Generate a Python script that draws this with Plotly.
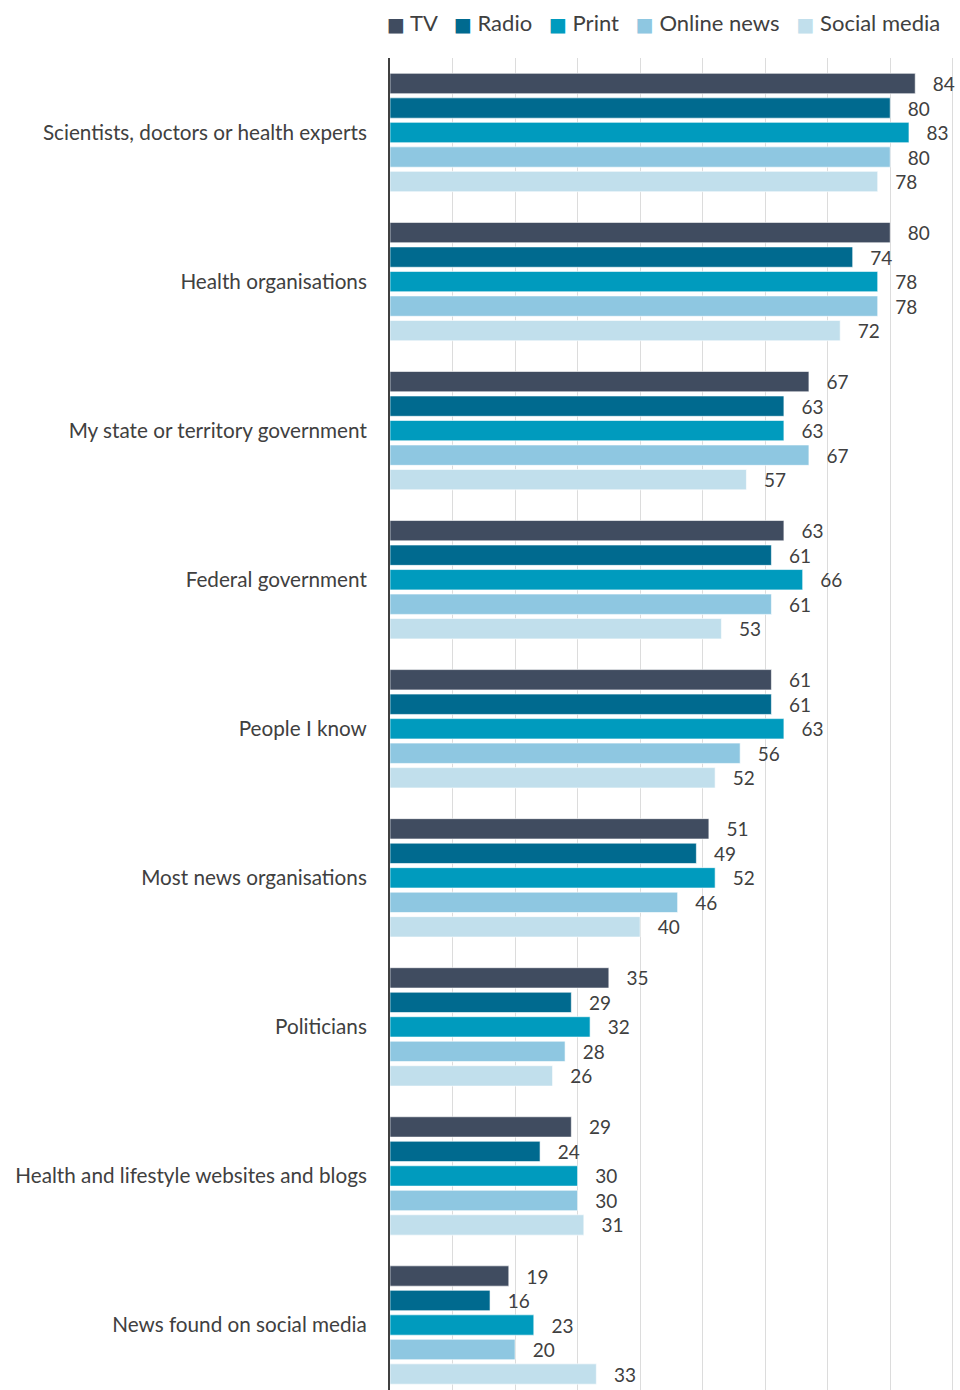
import plotly.graph_objects as go

categories = [
    "Scientists, doctors or health experts",
    "Health organisations",
    "My state or territory government",
    "Federal government",
    "People I know",
    "Most news organisations",
    "Politicians",
    "Health and lifestyle websites and blogs",
    "News found on social media",
]

series_names = ["TV", "Radio", "Print", "Online news", "Social media"]
tv = [84, 80, 67, 63, 61, 51, 35, 29, 19]
radio = [80, 74, 63, 61, 61, 49, 29, 24, 16]
print_ = [83, 78, 63, 66, 63, 52, 32, 30, 23]
online_news = [80, 78, 67, 61, 56, 46, 28, 30, 20]
social_media = [78, 72, 57, 53, 52, 40, 26, 31, 33]

colors = ["#404C60", "#006A8F", "#009BBE", "#8EC7E1", "#C1DFEC"]
values = [tv, radio, print_, online_news, social_media]

FONT = "Lato, 'Open Sans', sans-serif"
TEXT = "#404040"

fig = go.Figure()
for name, vals, col in zip(series_names, values, colors):
    fig.add_trace(go.Bar(
        name=name,
        y=categories,
        x=vals,
        orientation="h",
        marker=dict(color=col, line=dict(color="rgba(255,255,255,0.6)", width=1)),
        text=vals,
        texttemplate="\u00a0\u00a0\u00a0%{x}",
        textposition="outside",
        constraintext="none",
        cliponaxis=False,
        textfont=dict(family=FONT, size=19, color=TEXT),
    ))

# Compact one-line key above the plot: coloured square + series name
key_parts = []
for name, col in zip(series_names, colors):
    key_parts.append(
        f"<span style='color:{col};font-size:19px;font-family:DejaVu Sans'>\u25A0</span>"
        f"\u00a0{name}"
    )
key_text = "\u00a0\u00a0\u00a0".join(key_parts)
fig.add_annotation(
    text=key_text,
    xref="paper", yref="paper",
    x=0.970, y=1.027,
    xanchor="right", yanchor="middle",
    showarrow=False,
    font=dict(family=FONT, size=22, color=TEXT),
)

fig.update_layout(
    width=960,
    height=1390,
    barmode="group",
    bargap=0.178,
    bargroupgap=0.17,
    plot_bgcolor="white",
    paper_bgcolor="white",
    margin=dict(l=390, r=1, t=58, b=0),
    font=dict(family=FONT, color=TEXT),
    showlegend=False,
    xaxis=dict(
        range=[0, 91],
        dtick=10,
        showgrid=True,
        gridcolor="#DCDCDC",
        gridwidth=1,
        showticklabels=False,
        zeroline=False,
        fixedrange=True,
    ),
    yaxis=dict(
        autorange=False,
        range=[8.436, -0.5],
        showline=True,
        linecolor="#404040",
        linewidth=2,
        ticks="",
        ticklabelstandoff=17,
        tickfont=dict(family=FONT, size=20.7, color=TEXT),
        fixedrange=True,
    ),
)

fig.write_html("out.html")
